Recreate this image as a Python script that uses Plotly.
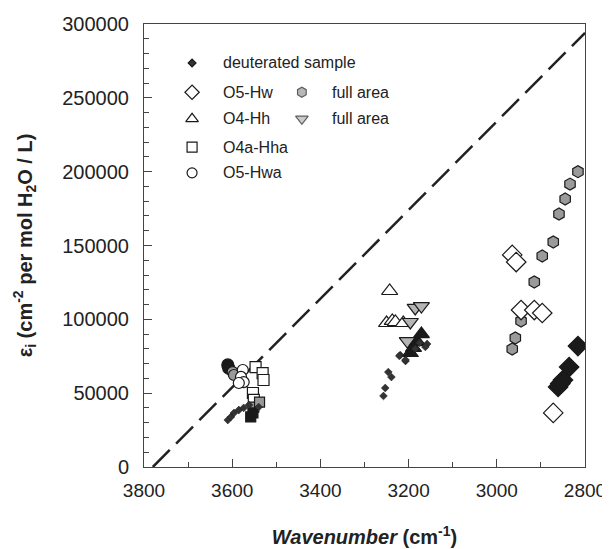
import plotly.graph_objects as go

# ---- data ----
line_x = [3780, 2800]
line_y = [0, 294000]

deut_x = [3610, 3603, 3596, 3585, 3574, 3562, 3540, 3158, 3162, 3219, 3207, 3221, 3207, 3246, 3239, 3253, 3257, 3175, 3185]
deut_y = [31800, 33900, 36600, 38600, 40000, 42000, 40600, 83300, 81300, 75800, 71800, 75200, 72500, 64300, 60900, 53500, 48100, 84000, 80000]

o5hw_x = [2965, 2956, 2945, 2915, 2897, 2872]
o5hw_y = [143600, 138800, 106300, 106300, 104300, 36600]

o5hw_full_x = [2816, 2834, 2845, 2859, 2872, 2897, 2915, 2945, 2958, 2965]
o5hw_full_y = [200000, 191600, 181500, 171300, 152400, 142900, 125300, 98900, 87400, 79900]

o5hw_deut_x = [2816, 2836, 2850, 2856, 2861]
o5hw_deut_y = [81900, 67700, 58900, 56500, 54200]

o4hh_x = [3243, 3250, 3237, 3230, 3212]
o4hh_y = [119200, 97500, 98900, 98200, 97500]

o4hh_full_x = [3185, 3171, 3196, 3203]
o4hh_full_y = [107700, 109000, 98200, 85300]

o4hh_deut_x = [3171, 3180, 3189, 3196]
o4hh_deut_y = [90000, 84700, 80600, 77200]

o4a_x = [3547, 3531, 3529, 3553, 3551]
o4a_y = [67700, 63600, 58900, 50100, 45400]
o4a_full_x = [3551, 3538]
o4a_full_y = [40600, 44000]
o4a_deut_x = [3558, 3553]
o4a_deut_y = [33900, 36600]

o5hwa_x = [3576, 3580, 3574, 3585]
o5hwa_y = [65700, 61000, 57500, 56900]
o5hwa_full_x = [3599, 3596]
o5hwa_full_y = [64300, 62300]
o5hwa_deut_x = [3610, 3608]
o5hwa_deut_y = [69100, 67000]

x_ticks = [3800, 3600, 3400, 3200, 3000, 2800]
y_ticks = [0, 50000, 100000, 150000, 200000, 250000, 300000]
y_ticktext = ["0", "50000", "100000", "150000", "200000", "250000", "300000"]

legend_rows = ["deuterated sample", "O5-Hw", "O4-Hh", "O4a-Hha", "O5-Hwa"]
legend_full = ["full area", "full area"]

BLK = "#1a1a1a"
GRAY = "#9a9a9a"
LGRAY = "#b5b5b5"

fig = go.Figure()

fig.add_trace(go.Scatter(x=line_x, y=line_y, mode="lines",
                         line=dict(color="#222", width=2.5, dash="24px,9px")))

def mk(xs, ys, symbol, size, fill, lc=BLK, lw=1.2):
    fig.add_trace(go.Scatter(x=xs, y=ys, mode="markers",
                             marker=dict(symbol=symbol, size=size, color=fill,
                                         line=dict(color=lc, width=lw))))

# 3600 cluster
mk(o5hwa_deut_x, o5hwa_deut_y, "circle", 12, BLK)
mk(o5hwa_full_x, o5hwa_full_y, "circle", 11, GRAY)
mk(o5hwa_x, o5hwa_y, "circle", 11, "white")
mk(o4a_x, o4a_y, "square", 11, "white")
mk(o4a_full_x, o4a_full_y, "square", 10, GRAY)
mk(o4a_deut_x, o4a_deut_y, "square", 10, BLK)

# 3200 cluster
mk(o4hh_x, o4hh_y, "triangle-up", 14, "white")
mk(o4hh_full_x, o4hh_full_y, "triangle-down", 14, LGRAY)
mk(o4hh_deut_x, o4hh_deut_y, "triangle-up", 14, BLK)

# 2900 cluster
mk(o5hw_full_x, o5hw_full_y, "hexagon", 12, GRAY)
mk(o5hw_x, o5hw_y, "diamond", 15, "white")
mk(o5hw_deut_x, o5hw_deut_y, "diamond", 15, BLK)

# deuterated sample
mk(deut_x, deut_y, "diamond", 6, "#333", lw=0.5)

# ---- legend drawn on an overlay axis (0..1) ----
ly = [0.912, 0.846, 0.786, 0.722, 0.664]
sx1, tx1, sx2, tx2 = 0.109, 0.175, 0.358, 0.422
leg_syms = [("diamond", 6, "#333"), ("diamond", 11, "white"), ("triangle-up", 11, "white"),
            ("square", 10, "white"), ("circle", 10, "white")]
for (s, sz, c), yy in zip(leg_syms, ly):
    fig.add_trace(go.Scatter(x=[sx1], y=[yy], xaxis="x2", yaxis="y2", mode="markers",
                             marker=dict(symbol=s, size=sz, color=c, line=dict(color=BLK, width=1.2))))
fig.add_trace(go.Scatter(x=[sx2, sx2], y=[ly[1], ly[2]], xaxis="x2", yaxis="y2", mode="markers",
                         marker=dict(symbol=["hexagon", "triangle-down"], size=[10, 11],
                                     color=[GRAY, LGRAY], line=dict(color=BLK, width=1.2))))
for t, yy in zip(legend_rows, ly):
    fig.add_annotation(x=tx1, y=yy, xref="x2", yref="y2", text=t, showarrow=False,
                       xanchor="left", yanchor="middle", font=dict(size=16, color="#222"))
for t, yy in zip(legend_full, ly[1:3]):
    fig.add_annotation(x=tx2, y=yy, xref="x2", yref="y2", text=t, showarrow=False,
                       xanchor="left", yanchor="middle", font=dict(size=16, color="#222"))

fig.update_layout(
    width=602, height=541,
    margin=dict(l=136, r=25, t=16, b=82),
    paper_bgcolor="white", plot_bgcolor="white",
    showlegend=False,
    font=dict(family="Liberation Sans, Arial, sans-serif", color="#222"),
    xaxis=dict(range=[3800, 2800], tickvals=x_ticks, ticks="inside", ticklen=8,
               minor=dict(dtick=100, ticks="inside", ticklen=5, tickcolor="#444"),
               showgrid=False, zeroline=False, showline=True, linecolor="#444", linewidth=1,
               mirror=True, tickfont=dict(size=19), tickcolor="#444", ticklabelstandoff=6,
               automargin=False,
               title=dict(text="<b><i>Wavenumber</i> (cm<sup>-1</sup>)</b>", font=dict(size=20), standoff=30)),
    yaxis=dict(range=[0, 300000], tickvals=y_ticks, ticktext=y_ticktext, ticks="inside", ticklen=8,
               minor=dict(dtick=10000, ticks="inside", ticklen=5, tickcolor="#444"),
               showgrid=False, zeroline=False, showline=True, linecolor="#444", linewidth=1,
               mirror=True, tickfont=dict(size=20), tickcolor="#444", ticklabelstandoff=10,
               automargin=False,
               title=dict(text="<b>ε<sub>i</sub> (cm<sup>-2</sup> per mol H<sub>2</sub>O / L)</b>",
                          font=dict(size=20), standoff=24)),
    xaxis2=dict(range=[0, 1], overlaying="x", visible=False, domain=[0, 1]),
    yaxis2=dict(range=[0, 1], overlaying="y", visible=False),
)

fig.write_html("out.html")
